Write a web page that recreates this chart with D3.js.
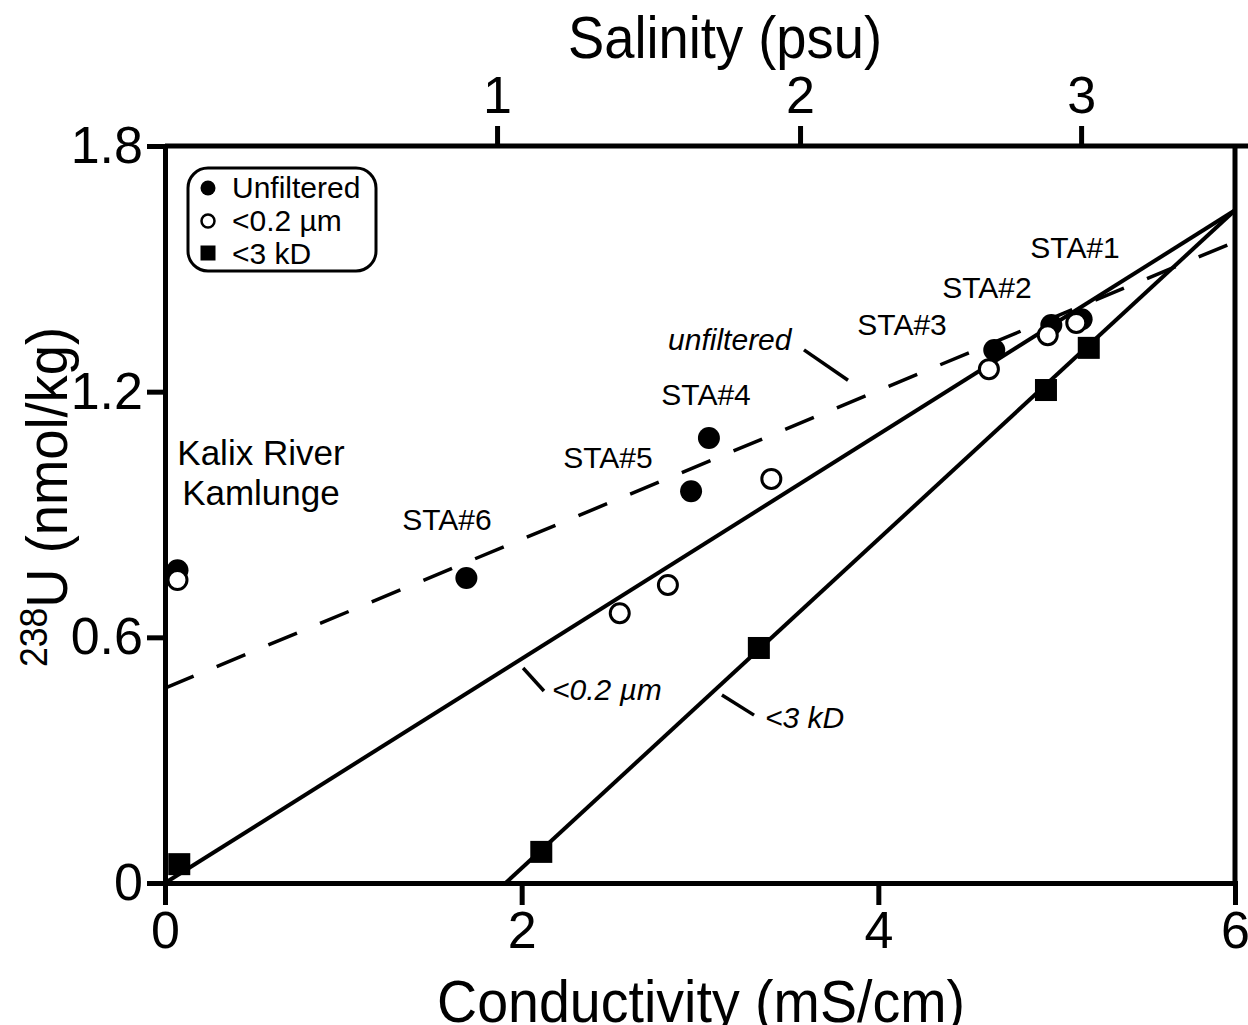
<!DOCTYPE html>
<html>
<head>
<meta charset="utf-8">
<script src="https://cdn.jsdelivr.net/npm/d3@7"></script>
<style>
  body { margin: 0; background: #fff; }
  svg { display: block; font-family: "Liberation Sans", Arial, sans-serif; }
</style>
</head>
<body>
<svg id="chart"></svg>
<script>
// --- data ---
// conductivity (mS/cm) and 238U (nmol/kg) for each size fraction
const unfilteredCond = [0.07, 1.69, 2.95, 3.05, 4.65, 4.97, 5.14];
const unfilteredU    = [0.764, 0.745, 0.957, 1.087, 1.302, 1.363, 1.377];

const fineCond = [0.07, 2.55, 2.82, 3.40, 4.62, 4.95, 5.11];
const fineU    = [0.740, 0.659, 0.728, 0.987, 1.255, 1.338, 1.368];

const kdCond = [0.08, 2.11, 3.33, 4.94, 5.18];
const kdU    = [0.046, 0.076, 0.574, 1.204, 1.307];

// mixing lines (conductivity, U) end points
const lineUnfiltered = [[0, 0.476], [6, 1.566]];
const lineFine       = [[0, 0], [6, 1.643]];
const lineKd         = [[1.91, 0], [6, 1.643]];

// axes
const condTicks = [0, 2, 4, 6];
const uTicks = [0, 0.6, 1.2, 1.8];
const salinityTicks = [1, 2, 3];
const salinityAtCond = [1.862, 3.561, 5.137];

const stationNames = ["STA#1", "STA#2", "STA#3", "STA#4", "STA#5", "STA#6"];

// --- layout ---
const W = 1248, H = 1025;
const svg = d3.select("#chart").attr("width", W).attr("height", H);

const x = d3.scaleLinear().domain([0, 6]).range([165, 1235]);
const y = d3.scaleLinear().domain([0, 1.8]).range([883, 146]);
const xSal = d3.scaleLinear().domain(salinityTicks).range(salinityAtCond.map(x));

function styleAxis(g, size) {
    g.attr("font-family", null).attr("font-size", null);
    g.selectAll("text").attr("fill", "#000").style("font-size", size + "px");
    g.selectAll("line").attr("stroke", "#000").attr("stroke-width", 5);
    g.select(".domain").attr("stroke", "#000").attr("stroke-width", 5)
        .attr("stroke-linecap", "square");
}

// frame: top and right
svg.append("line")
    .attr("x1", x(0)).attr("x2", W)
    .attr("y1", y(1.8)).attr("y2", y(1.8))
    .attr("stroke", "#000").attr("stroke-width", 5);
svg.append("line")
    .attr("x1", x(6)).attr("x2", x(6))
    .attr("y1", y(1.8)).attr("y2", y(0))
    .attr("stroke", "#000").attr("stroke-width", 5);

svg.append("g")
    .attr("transform", `translate(0,${y(0)})`)
    .call(d3.axisBottom(x).tickValues(condTicks).tickSize(22).tickPadding(6)
        .tickSizeOuter(0).tickFormat(d3.format("d")))
    .call(g => styleAxis(g, 52));

svg.append("g")
    .attr("transform", `translate(${x(0)},0)`)
    .call(d3.axisLeft(y).tickValues(uTicks).tickSize(18).tickPadding(4)
        .tickSizeOuter(0).tickFormat(d => d === 0 ? "0" : d3.format(".1f")(d)))
    .call(g => styleAxis(g, 52));

svg.append("g")
    .attr("transform", `translate(0,${y(1.8)})`)
    .call(d3.axisTop(xSal).tickValues(salinityTicks).tickSize(20).tickPadding(13)
        .tickSizeOuter(0).tickFormat(d3.format("d")))
    .call(g => styleAxis(g, 52))
    .call(g => g.select(".domain").remove());

// titles
svg.append("text")
    .attr("x", 725).attr("y", 58)
    .attr("text-anchor", "middle")
    .attr("font-size", 60)
    .attr("textLength", 314).attr("lengthAdjust", "spacingAndGlyphs")
    .text("Salinity (psu)");

svg.append("text")
    .attr("x", 701).attr("y", 1022)
    .attr("text-anchor", "middle")
    .attr("font-size", 60)
    .attr("textLength", 528).attr("lengthAdjust", "spacingAndGlyphs")
    .text("Conductivity (mS/cm)");

const yTitle = svg.append("text")
    .attr("transform", "translate(67,497) rotate(-90)")
    .attr("text-anchor", "middle")
    .attr("font-size", 58)
    .attr("textLength", 340).attr("lengthAdjust", "spacingAndGlyphs");
yTitle.append("tspan").attr("font-size", 38).attr("dy", -20).text("238");
yTitle.append("tspan").attr("dy", 20).text("U (nmol/kg)");

// mixing lines
const line = d3.line().x(d => x(d[0])).y(d => y(d[1]));

svg.append("path").datum(lineUnfiltered)
    .attr("d", line).attr("fill", "none")
    .attr("stroke", "#000").attr("stroke-width", 3.5)
    .attr("stroke-dasharray", "31,25");
svg.append("path").datum(lineFine)
    .attr("d", line).attr("fill", "none")
    .attr("stroke", "#000").attr("stroke-width", 4);
svg.append("path").datum(lineKd)
    .attr("d", line).attr("fill", "none")
    .attr("stroke", "#000").attr("stroke-width", 4);

// markers
svg.selectAll(".unf")
    .data(d3.zip(unfilteredCond, unfilteredU))
    .enter().append("circle")
    .attr("class", "unf")
    .attr("cx", d => x(d[0])).attr("cy", d => y(d[1]))
    .attr("r", 11).attr("fill", "#000");

svg.selectAll(".fine")
    .data(d3.zip(fineCond, fineU))
    .enter().append("circle")
    .attr("class", "fine")
    .attr("cx", d => x(d[0])).attr("cy", d => y(d[1]))
    .attr("r", 9.5).attr("fill", "#fff")
    .attr("stroke", "#000").attr("stroke-width", 3);

svg.selectAll(".kd")
    .data(d3.zip(kdCond, kdU))
    .enter().append("rect")
    .attr("class", "kd")
    .attr("x", d => x(d[0]) - 11).attr("y", d => y(d[1]) - 11)
    .attr("width", 22).attr("height", 22).attr("fill", "#000");

// station labels (centre, baseline) in data units
const stationPos = [[5.103, 1.526], [4.609, 1.429], [4.133, 1.338],
                    [3.034, 1.167], [2.484, 1.014], [1.581, 0.862]];
svg.selectAll(".sta")
    .data(stationNames)
    .enter().append("text")
    .attr("class", "sta")
    .attr("x", (d, i) => x(stationPos[i][0]))
    .attr("y", (d, i) => y(stationPos[i][1]))
    .attr("text-anchor", "middle")
    .attr("font-size", 30)
    .text(d => d);

svg.append("text")
    .attr("x", x(0.538)).attr("y", y(1.021))
    .attr("text-anchor", "middle").attr("font-size", 35)
    .text("Kalix River");
svg.append("text")
    .attr("x", x(0.538)).attr("y", y(0.923))
    .attr("text-anchor", "middle").attr("font-size", 35)
    .text("Kamlunge");

// line labels with leaders
const lineLabels = [
    { text: "unfiltered", at: [2.821, 1.302], lead: [[3.583, 1.302], [3.830, 1.228]] },
    { text: "<0.2 µm", at: [2.170, 0.447], lead: [[2.008, 0.525], [2.125, 0.469]] },
    { text: "<3 kD", at: [3.365, 0.379], lead: [[3.123, 0.459], [3.303, 0.410]] }
];
lineLabels.forEach(l => {
    svg.append("text")
        .attr("x", x(l.at[0])).attr("y", y(l.at[1]))
        .attr("font-size", 30).attr("font-style", "italic")
        .text(l.text);
    svg.append("path").datum(l.lead)
        .attr("d", line).attr("fill", "none")
        .attr("stroke", "#000").attr("stroke-width", 3.5);
});

// legend
const legend = svg.append("g");
legend.append("rect")
    .attr("x", 188).attr("y", 168).attr("width", 188).attr("height", 103)
    .attr("rx", 20).attr("fill", "#fff")
    .attr("stroke", "#000").attr("stroke-width", 3);
legend.append("circle").attr("cx", 208).attr("cy", 188).attr("r", 7.5).attr("fill", "#000");
legend.append("circle").attr("cx", 208).attr("cy", 221).attr("r", 6.5)
    .attr("fill", "#fff").attr("stroke", "#000").attr("stroke-width", 2.5);
legend.append("rect").attr("x", 200.5).attr("y", 245.5).attr("width", 15).attr("height", 15)
    .attr("fill", "#000");
[["Unfiltered", 198], ["<0.2 µm", 231], ["<3 kD", 264]].forEach(t => {
    legend.append("text").attr("x", 232).attr("y", t[1])
        .attr("font-size", 30).text(t[0]);
});
</script>
</body>
</html>
